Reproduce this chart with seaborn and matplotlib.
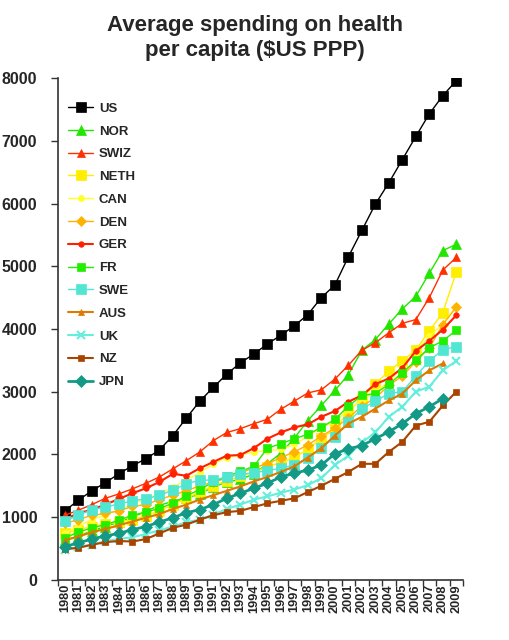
import numpy as np
import pandas as pd
import matplotlib
matplotlib.use("Agg")
import matplotlib.pyplot as plt
import seaborn as sns

years = list(range(1980, 2010))

US = [1100, 1270, 1420, 1550, 1690, 1820, 1930, 2070, 2300, 2580, 2850, 3070, 3280, 3460, 3600,
      3760, 3900, 4050, 4230, 4500, 4700, 5150, 5570, 5990, 6330, 6700, 7070, 7430, 7720, 7960]
NOR = [630, 700, 780, 850, 920, 1000, 1090, 1190, 1250, 1300, 1370, 1480, 1560, 1600, 1690,
       1850, 2020, 2260, 2540, 2780, 3020, 3270, 3660, 3830, 4080, 4320, 4520, 4890, 5250, 5350]
SWIZ = [1030, 1110, 1200, 1300, 1370, 1450, 1540, 1640, 1770, 1900, 2040, 2220, 2350, 2410, 2490,
        2560, 2720, 2850, 2980, 3030, 3200, 3420, 3660, 3780, 3940, 4090, 4150, 4500, 4940, 5140]
NETH = [750, 800, 850, 890, 920, 960, 1020, 1100, 1200, 1300, 1400, 1500, 1580, 1650, 1720,
        1800, 1870, 1950, 2080, 2260, 2400, 2680, 2890, 3120, 3330, 3490, 3665, 3970, 4260, 4910]
CAN = [740, 860, 960, 1040, 1110, 1200, 1290, 1370, 1480, 1590, 1710, 1850, 1950, 1990, 2040,
       2060, 2080, 2160, 2290, 2430, 2520, 2720, 2860, 3000, 3160, 3400, 3640, 3880, 4080, 4360]
DEN = [900, 960, 1030, 1060, 1100, 1170, 1200, 1280, 1350, 1420, 1500, 1560, 1620, 1700, 1790,
       1850, 1950, 2040, 2150, 2290, 2420, 2580, 2770, 2900, 3100, 3250, 3480, 3700, 4070, 4350]
GER = [970, 1060, 1120, 1200, 1290, 1380, 1460, 1560, 1690, 1660, 1780, 1880, 1980, 1990, 2100,
       2250, 2350, 2430, 2480, 2600, 2690, 2840, 2940, 3120, 3210, 3380, 3650, 3810, 3990, 4220]
FR = [670, 760, 830, 880, 950, 1030, 1080, 1140, 1220, 1340, 1440, 1560, 1650, 1730, 1810,
      2100, 2170, 2250, 2320, 2430, 2560, 2770, 2940, 2970, 3120, 3300, 3500, 3700, 3810, 3980]
SWE = [940, 1030, 1120, 1160, 1210, 1260, 1290, 1350, 1430, 1530, 1590, 1590, 1640, 1680, 1710,
       1740, 1780, 1830, 1950, 2100, 2280, 2520, 2730, 2850, 2970, 3000, 3250, 3490, 3670, 3720]
AUS = [630, 690, 760, 810, 870, 930, 990, 1050, 1130, 1200, 1280, 1350, 1420, 1490, 1570,
       1640, 1720, 1810, 1950, 2100, 2300, 2490, 2600, 2730, 2860, 2970, 3180, 3340, 3450, None]
UK = [470, 530, 560, 620, 650, 680, 730, 790, 850, 920, 960, 1040, 1130, 1200, 1280,
      1330, 1390, 1440, 1510, 1620, 1830, 1980, 2190, 2350, 2600, 2760, 3000, 3080, 3340, 3490]
NZ = [490, 510, 560, 600, 620, 610, 650, 740, 830, 880, 960, 1030, 1080, 1100, 1160,
      1220, 1260, 1300, 1400, 1500, 1610, 1720, 1850, 1850, 2040, 2200, 2460, 2520, 2780, 3000]
JPN = [530, 590, 650, 700, 740, 800, 850, 920, 990, 1070, 1120, 1200, 1300, 1380, 1460,
       1540, 1640, 1700, 1750, 1830, 2010, 2090, 2140, 2250, 2360, 2490, 2650, 2760, 2890, None]

series = [
    ("US", US, "#000000", "s", 6.5, 1.0),
    ("NOR", NOR, "#22e600", "^", 7.0, 1.0),
    ("SWIZ", SWIZ, "#ff3000", "^", 5.5, 1.0),
    ("NETH", NETH, "#ffee00", "s", 6.5, 1.0),
    ("CAN", CAN, "#ffff30", "o", 4.5, 1.0),
    ("DEN", DEN, "#ffb300", "D", 5.0, 1.0),
    ("GER", GER, "#ff2000", "o", 4.0, 1.5),
    ("FR", FR, "#22ee00", "s", 5.5, 1.0),
    ("SWE", SWE, "#50e6d2", "s", 6.5, 1.0),
    ("AUS", AUS, "#dd7a00", "^", 4.0, 1.5),
    ("UK", UK, "#66eedc", "x", 6.0, 1.5),
    ("NZ", NZ, "#a84400", "s", 5.0, 1.5),
    ("JPN", JPN, "#139a86", "D", 6.5, 2.0),
]

sns.set_theme(style="white")
plt.rcParams["font.family"] = ["Liberation Sans", "DejaVu Sans"]
plt.rcParams["font.weight"] = "bold"

fig = plt.figure(figsize=(5.1, 6.4), dpi=100)
ax = fig.add_axes([0.114, 0.094, 0.794, 0.784])

for name, vals, col, mk, ms, lw in series:
    df = pd.DataFrame({"year": years, "value": vals}).dropna()
    sns.lineplot(data=df, x="year", y="value", ax=ax, color=col, marker=mk,
                 markersize=ms, linewidth=lw, markeredgecolor=col,
                 markeredgewidth=1.5 if mk == "x" else 0.5, label=name)

ax.set_xlim(1979.5, 2009.5)
ax.set_ylim(0, 8000)
ax.set_yticks(range(0, 8001, 1000))
ax.set_yticklabels([str(v) for v in range(0, 8001, 1000)], fontsize=11.5, fontweight="bold")
ax.set_xticks(years)
ax.set_xticklabels([str(y) for y in years], rotation=90, fontsize=9.2, fontweight="bold")
ax.set_xticks([y + 0.5 for y in range(1979, 2010)], minor=True)
ax.tick_params(axis="x", which="major", length=0, pad=3)
ax.tick_params(axis="x", which="minor", length=4, width=1, color="#333333", direction="out", bottom=True)
ax.tick_params(axis="y", length=5, width=1, color="#333333", direction="out", left=True, pad=10)
ax.set_xlabel("")
ax.set_ylabel("")
for s in ["top", "right"]:
    ax.spines[s].set_visible(False)
for s in ["left", "bottom"]:
    ax.spines[s].set_color("#333333")
    ax.spines[s].set_linewidth(1.2)

leg = ax.legend(loc="upper left", bbox_to_anchor=(-0.005, 0.975), frameon=False,
                prop={"size": 9.5, "weight": "bold"}, handlelength=1.9,
                labelspacing=0.8, handletextpad=0.45)

fig.text(0.5, 0.977, "Average spending on health\nper capita ($US PPP)", ha="center", va="top",
         fontsize=16, fontweight="bold", linespacing=1.25)

fig.savefig("out.png", dpi=100)
